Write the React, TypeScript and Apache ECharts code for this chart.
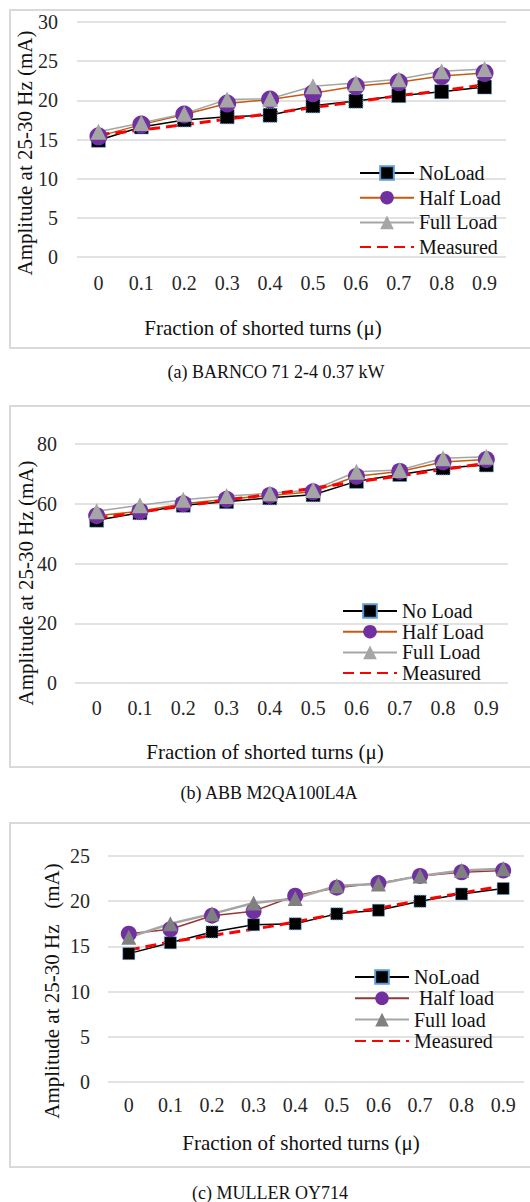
import { useEffect, useRef } from "react";
import * as echarts from "echarts";

const FONT = "'Liberation Serif', 'Times New Roman', Times, serif";

const categories = ["0", "0.1", "0.2", "0.3", "0.4", "0.5", "0.6", "0.7", "0.8", "0.9"];

// (a) BARNCO 71 2-4 0.37 kW
const barncoNoLoad = [14.9, 16.6, 17.5, 17.9, 18.1, 19.3, 19.9, 20.6, 21.1, 21.7];
const barncoHalfLoad = [15.4, 16.9, 18.2, 19.6, 20.1, 20.9, 21.8, 22.3, 23.1, 23.5];
const barncoFullLoad = [16.0, 17.1, 18.3, 20.1, 20.2, 21.8, 22.2, 22.7, 23.7, 24.0];
const barncoMeasured = [15.6, 16.2, 16.9, 17.6, 18.3, 19.1, 19.8, 20.6, 21.2, 22.0];

// (b) ABB M2QA100L4A
const abbNoLoad = [54.5, 57.0, 59.5, 60.7, 62.0, 63.0, 67.5, 69.8, 72.0, 73.0];
const abbHalfLoad = [56.0, 57.5, 60.0, 61.5, 62.8, 64.0, 69.2, 70.8, 74.0, 74.8];
const abbFullLoad = [57.5, 59.5, 61.3, 62.6, 63.5, 64.6, 70.7, 71.3, 75.2, 75.7];
const abbMeasured = [55.1, 57.2, 59.2, 61.3, 63.1, 65.2, 67.4, 69.3, 71.5, 73.5];

// (c) MULLER OY714
const mullerNoLoad = [14.2, 15.4, 16.6, 17.4, 17.5, 18.6, 19.0, 20.0, 20.8, 21.4];
const mullerHalfLoad = [16.4, 16.9, 18.4, 18.9, 20.6, 21.5, 22.0, 22.8, 23.2, 23.4];
const mullerFullLoad = [16.0, 17.5, 18.6, 19.8, 20.3, 21.7, 21.9, 22.8, 23.4, 23.6];
const mullerMeasured = [14.6, 15.5, 16.2, 16.9, 17.7, 18.6, 19.2, 20.1, 20.9, 21.7];

type SeriesSpec = {
  name: string;
  data: number[];
  symbol: string;
  size: number;
  marker: string;
  line: string;
  width: number;
  dashed?: boolean;
  dotted?: boolean;
};

type Panel = {
  top: number;
  height: number;
  grid: { left: number; top: number; width: number; height: number };
  yMax: number;
  yInterval: number;
  xLabelMargin: number;
  yLabelMargin: number;
  legend: { left: number; top: number; gap: number };
  box: { y: number; h: number };
  xTitle: { x: number; y: number; text: string };
  yTitle: { x: number; y: number; text: string };
  caption: { x: number; y: number; text: string };
  series: SeriesSpec[];
};

const panels: Panel[] = [
  {
    top: 0,
    height: 400,
    grid: { left: 77, top: 22, width: 429, height: 235 },
    yMax: 30,
    yInterval: 5,
    xLabelMargin: 16,
    yLabelMargin: 19,
    legend: { left: 359, top: 163, gap: 4.7 },
    box: { y: 10, h: 338 },
    xTitle: { x: 263, y: 328, text: "Fraction of shorted turns (μ)" },
    yTitle: { x: 25, y: 153, text: "Amplitude at 25-30 Hz (mA)" },
    caption: { x: 276, y: 372, text: "(a) BARNCO 71 2-4 0.37 kW" },
    series: [
      { name: "NoLoad", data: barncoNoLoad, symbol: "rect", size: 14, marker: "#000000", line: "#000000", width: 1.5, dotted: true },
      { name: "Half Load", data: barncoHalfLoad, symbol: "circle", size: 18, marker: "#7030a0", line: "#c55a11", width: 1.5 },
      { name: "Full Load", data: barncoFullLoad, symbol: "triangle", size: 16, marker: "#a5a5a5", line: "#a5a5a5", width: 1.5 },
      { name: "Measured", data: barncoMeasured, symbol: "none", size: 0, marker: "#ff0000", line: "#ff0000", width: 2.5, dashed: true },
    ],
  },
  {
    top: 400,
    height: 410,
    grid: { left: 75, top: 44, width: 433, height: 239 },
    yMax: 80,
    yInterval: 20,
    xLabelMargin: 15,
    yLabelMargin: 18,
    legend: { left: 342, top: 201, gap: 0.7 },
    box: { y: 6, h: 361 },
    xTitle: { x: 265, y: 352, text: "Fraction of shorted turns (μ)" },
    yTitle: { x: 26, y: 183, text: "Amplitude at 25-30 Hz (mA)" },
    caption: { x: 269, y: 393, text: "(b) ABB M2QA100L4A" },
    series: [
      { name: "No Load", data: abbNoLoad, symbol: "rect", size: 14, marker: "#000000", line: "#000000", width: 1.5, dotted: true },
      { name: "Half Load", data: abbHalfLoad, symbol: "circle", size: 17, marker: "#7030a0", line: "#c55a11", width: 1.5 },
      { name: "Full Load", data: abbFullLoad, symbol: "triangle", size: 16, marker: "#a5a5a5", line: "#a5a5a5", width: 1.5 },
      { name: "Measured", data: abbMeasured, symbol: "none", size: 0, marker: "#ff0000", line: "#ff0000", width: 2.5, dashed: true },
    ],
  },
  {
    top: 810,
    height: 392,
    grid: { left: 108, top: 46, width: 416, height: 226 },
    yMax: 25,
    yInterval: 5,
    xLabelMargin: 13,
    yLabelMargin: 18,
    legend: { left: 354, top: 157, gap: 1.3 },
    box: { y: 13, h: 344 },
    xTitle: { x: 301, y: 333, text: "Fraction of shorted turns (μ)" },
    yTitle: { x: 52, y: 181, text: "Amplitude at 25-30 Hz   (mA)" },
    caption: { x: 270, y: 383, text: "(c) MULLER OY714" },
    series: [
      { name: "NoLoad", data: mullerNoLoad, symbol: "rect", size: 12, marker: "#000000", line: "#000000", width: 1.5, dotted: true },
      { name: " Half load", data: mullerHalfLoad, symbol: "circle", size: 16, marker: "#7030a0", line: "#953735", width: 1.5 },
      { name: "Full load", data: mullerFullLoad, symbol: "triangle", size: 15, marker: "#808080", line: "#a5a5a5", width: 2.5 },
      { name: "Measured", data: mullerMeasured, symbol: "none", size: 0, marker: "#ff0000", line: "#ff0000", width: 2.5, dashed: true },
    ],
  },
];

function textEl(x: number, y: number, text: string, size: number, rotation = 0) {
  return {
    type: "text",
    x,
    y,
    rotation,
    silent: true,
    style: {
      text,
      font: `${size}px ${FONT}`,
      fill: "#111111",
      align: "center",
      verticalAlign: "middle",
      textAlign: "center",
      textVerticalAlign: "middle",
    },
  };
}

function buildOption(p: Panel) {
  return {
    animation: false,
    grid: { ...p.grid, containLabel: false },
    xAxis: {
      type: "category",
      data: categories,
      boundaryGap: true,
      axisLine: { show: false },
      axisTick: { show: false },
      splitLine: { show: false },
      axisLabel: { fontFamily: FONT, fontSize: 20, color: "#262626", margin: p.xLabelMargin },
    },
    yAxis: {
      type: "value",
      min: 0,
      max: p.yMax,
      interval: p.yInterval,
      axisLine: { show: false },
      axisTick: { show: false },
      axisLabel: { fontFamily: FONT, fontSize: 20, color: "#262626", margin: p.yLabelMargin },
      splitLine: { lineStyle: { color: "#d9d9d9", width: 1.5 } },
    },
    legend: {
      orient: "vertical",
      left: p.legend.left,
      top: p.legend.top,
      padding: 0,
      itemGap: p.legend.gap,
      itemWidth: 54,
      itemHeight: 17,
      selectedMode: false,
      textStyle: { fontFamily: FONT, fontSize: 20, color: "#111111", lineHeight: 20 },
      data: p.series.map((s) => s.name),
    },
    graphic: [
      {
        type: "rect",
        silent: true,
        shape: { x: 10, y: p.box.y, width: 540, height: p.box.h },
        style: { fill: "none", stroke: "#d9d9d9", lineWidth: 2 },
      },
      textEl(p.xTitle.x, p.xTitle.y, p.xTitle.text, 21),
      textEl(p.yTitle.x, p.yTitle.y, p.yTitle.text, 21, Math.PI / 2),
      textEl(p.caption.x, p.caption.y, p.caption.text, 18),
    ],
    series: p.series.map((s) => ({
      type: "line",
      name: s.name,
      data: s.data,
      symbol: s.symbol,
      symbolSize: s.size,
      showSymbol: s.symbol !== "none",
      lineStyle: { color: s.line, width: s.dashed ? 3 : s.width, type: s.dashed ? [11, 6] : "solid" },
      itemStyle: s.dashed
        ? { color: s.marker, opacity: 0 }
        : s.dotted
        ? { color: s.marker, borderColor: "#5b9bd5", borderWidth: 1, borderType: "dotted" }
        : { color: s.marker },
      emphasis: { disabled: true },
    })),
  };
}

export default function App() {
  const refs = useRef<(HTMLDivElement | null)[]>([]);

  useEffect(() => {
    const charts = panels.map((p, i) => {
      const el = refs.current[i] as HTMLDivElement;
      const c = echarts.init(el, undefined, { renderer: "svg" });
      c.setOption(buildOption(p) as any);
      return c;
    });
    return () => charts.forEach((c) => c.dispose());
  }, []);

  return (
    <div
      style={{
        position: "absolute",
        left: 0,
        top: 0,
        width: 530,
        height: 1202,
        background: "#ffffff",
        overflow: "hidden",
      }}
    >
      {panels.map((p, i) => (
        <div
          key={i}
          ref={(el) => {
            refs.current[i] = el;
          }}
          style={{ position: "absolute", left: 0, top: p.top, width: 530, height: p.height }}
        />
      ))}
    </div>
  );
}
